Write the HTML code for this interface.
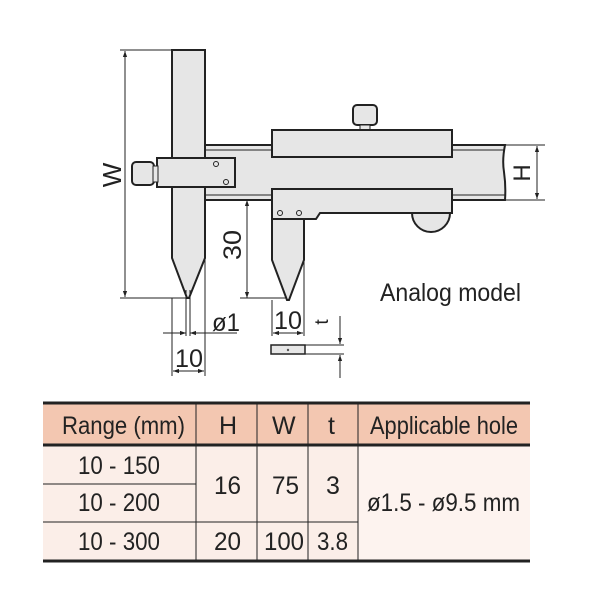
<!DOCTYPE html>
<html><head><style>
body{margin:0;background:#fff;width:600px;height:600px;overflow:hidden}
svg{display:block}
text{font-family:"Liberation Sans",sans-serif;fill:#222}
</style></head><body>
<svg width="600" height="600" viewBox="0 0 600 600">
<defs>
<marker id="a" viewBox="0 0 10 10" refX="10" refY="5" markerWidth="6" markerHeight="6" orient="auto-start-reverse"><path d="M0,1.5L10,5L0,8.5z" fill="#222"/></marker>
</defs>
<g stroke="#222" fill="#e6e6e6" stroke-width="2">
<path d="M205,145 H505 Q502,160 504,172 Q506,186 505,200 H205 Z"/>
<line x1="205" y1="150" x2="505" y2="150" stroke-width="1"/>
<line x1="205" y1="195" x2="505" y2="195" stroke-width="1"/>
<path d="M172,50 H205 V258 L189,298 H187 L172,258 Z"/>
<rect x="157" y="158" width="78" height="29"/>
<rect x="132" y="162" width="22" height="23" rx="4"/>
<rect x="153" y="166" width="5" height="16" stroke-width="1"/>
<circle cx="216" cy="164" r="2.5" stroke-width="1"/>
<circle cx="226" cy="182" r="2.5" stroke-width="1"/>
<rect x="353" y="105" width="24" height="20" rx="4"/>
<rect x="360" y="125" width="10" height="6" stroke-width="1"/>
<rect x="272" y="130" width="180" height="27"/>
<path d="M412,213 A19,19 0 0 0 450,213 Z"/>
<path d="M272,189 H452 V213 H320 L316,219 H272 Z"/>
<circle cx="280" cy="213" r="2.5" stroke-width="1"/>
<circle cx="299" cy="213" r="2.5" stroke-width="1"/>
<path d="M272,219 H304 V260 L289,300 H287 L272,260 Z"/>
<rect x="271" y="345" width="34" height="9" stroke-width="1.5"/>
</g>
<circle cx="288" cy="350" r="1.2" fill="#555"/>
<g stroke="#222" stroke-width="1" fill="none">
<line x1="120" y1="50" x2="172" y2="50"/>
<line x1="120" y1="298" x2="188" y2="298"/>
<line x1="125" y1="51" x2="125" y2="297" marker-start="url(#a)" marker-end="url(#a)"/>
<line x1="505" y1="145" x2="545" y2="145"/>
<line x1="505" y1="200" x2="545" y2="200"/>
<line x1="537" y1="146" x2="537" y2="199" marker-start="url(#a)" marker-end="url(#a)"/>
<line x1="247" y1="200" x2="247" y2="298" marker-start="url(#a)" marker-end="url(#a)"/>
<line x1="240" y1="298" x2="287" y2="298"/>
<line x1="186" y1="290" x2="186" y2="336"/>
<line x1="190" y1="290" x2="190" y2="336"/>
<line x1="163" y1="333" x2="186" y2="333" marker-end="url(#a)"/>
<line x1="237" y1="333" x2="190" y2="333" marker-end="url(#a)"/>
<line x1="172" y1="298" x2="172" y2="376"/>
<line x1="205" y1="258" x2="205" y2="376"/>
<line x1="188" y1="371" x2="173" y2="371" marker-end="url(#a)"/>
<line x1="188" y1="371" x2="204" y2="371" marker-end="url(#a)"/>
<line x1="272" y1="300" x2="272" y2="336"/>
<line x1="304" y1="260" x2="304" y2="336"/>
<line x1="288" y1="333" x2="273" y2="333" marker-end="url(#a)"/>
<line x1="288" y1="333" x2="303" y2="333" marker-end="url(#a)"/>
<line x1="305" y1="345" x2="344" y2="345"/>
<line x1="305" y1="354" x2="344" y2="354"/>
<line x1="340" y1="316" x2="340" y2="344" marker-end="url(#a)"/>
<line x1="340" y1="378" x2="340" y2="355" marker-end="url(#a)"/>
</g>
<text x="0" y="0" font-size="26" transform="translate(121,175) rotate(-90)" text-anchor="middle">W</text>
<text x="0" y="0" font-size="24" transform="translate(530,173) rotate(-90)" text-anchor="middle">H</text>
<text x="0" y="0" font-size="25" transform="translate(241,245) rotate(-90)" text-anchor="middle" textLength="30" lengthAdjust="spacingAndGlyphs">30</text>
<text x="0" y="0" font-size="19" transform="translate(328,322) rotate(-90)" text-anchor="middle">t</text>
<text x="380" y="301" font-size="25" textLength="141" lengthAdjust="spacingAndGlyphs">Analog model</text>
<text x="212" y="331" font-size="25" textLength="28" lengthAdjust="spacingAndGlyphs">ø1</text>
<text x="175" y="367" font-size="25" textLength="28" lengthAdjust="spacingAndGlyphs">10</text>
<text x="274" y="329" font-size="25" textLength="28" lengthAdjust="spacingAndGlyphs">10</text>
<rect x="43" y="403" width="487" height="42" fill="#f3c7b1"/>
<rect x="43" y="445" width="487" height="116" fill="#fbeee8"/>
<rect x="358" y="445" width="172" height="116" fill="#fdf3ef"/>
<g stroke="#222" fill="none">
<line x1="43" y1="403" x2="530" y2="403" stroke-width="3"/>
<line x1="43" y1="445" x2="530" y2="445" stroke-width="3"/>
<line x1="43" y1="561" x2="530" y2="561" stroke-width="3"/>
<line x1="43" y1="484" x2="196" y2="484" stroke-width="1"/>
<line x1="43" y1="522" x2="358" y2="522" stroke-width="1"/>
<line x1="196" y1="403" x2="196" y2="561" stroke-width="1"/>
<line x1="257" y1="403" x2="257" y2="561" stroke-width="1"/>
<line x1="308" y1="403" x2="308" y2="561" stroke-width="1"/>
<line x1="358" y1="403" x2="358" y2="561" stroke-width="1"/>
</g>
<g font-size="25" lengthAdjust="spacingAndGlyphs">
<text x="62" y="434" textLength="123" lengthAdjust="spacingAndGlyphs">Range (mm)</text>
<text x="219" y="434">H</text>
<text x="272" y="434">W</text>
<text x="328" y="434">t</text>
<text x="370" y="434" textLength="148" lengthAdjust="spacingAndGlyphs">Applicable hole</text>
<text x="78" y="474" textLength="82" lengthAdjust="spacingAndGlyphs">10 - 150</text>
<text x="78" y="511" textLength="82" lengthAdjust="spacingAndGlyphs">10 - 200</text>
<text x="78" y="550" textLength="82" lengthAdjust="spacingAndGlyphs">10 - 300</text>
<text x="214" y="494" textLength="27" lengthAdjust="spacingAndGlyphs">16</text>
<text x="272" y="494" textLength="27" lengthAdjust="spacingAndGlyphs">75</text>
<text x="326" y="494">3</text>
<text x="214" y="550" textLength="27" lengthAdjust="spacingAndGlyphs">20</text>
<text x="264" y="550" textLength="40" lengthAdjust="spacingAndGlyphs">100</text>
<text x="317" y="550" textLength="31" lengthAdjust="spacingAndGlyphs">3.8</text>
<text x="367" y="511" textLength="153" lengthAdjust="spacingAndGlyphs">ø1.5 - ø9.5 mm</text>
</g>
</svg>
</body></html>
